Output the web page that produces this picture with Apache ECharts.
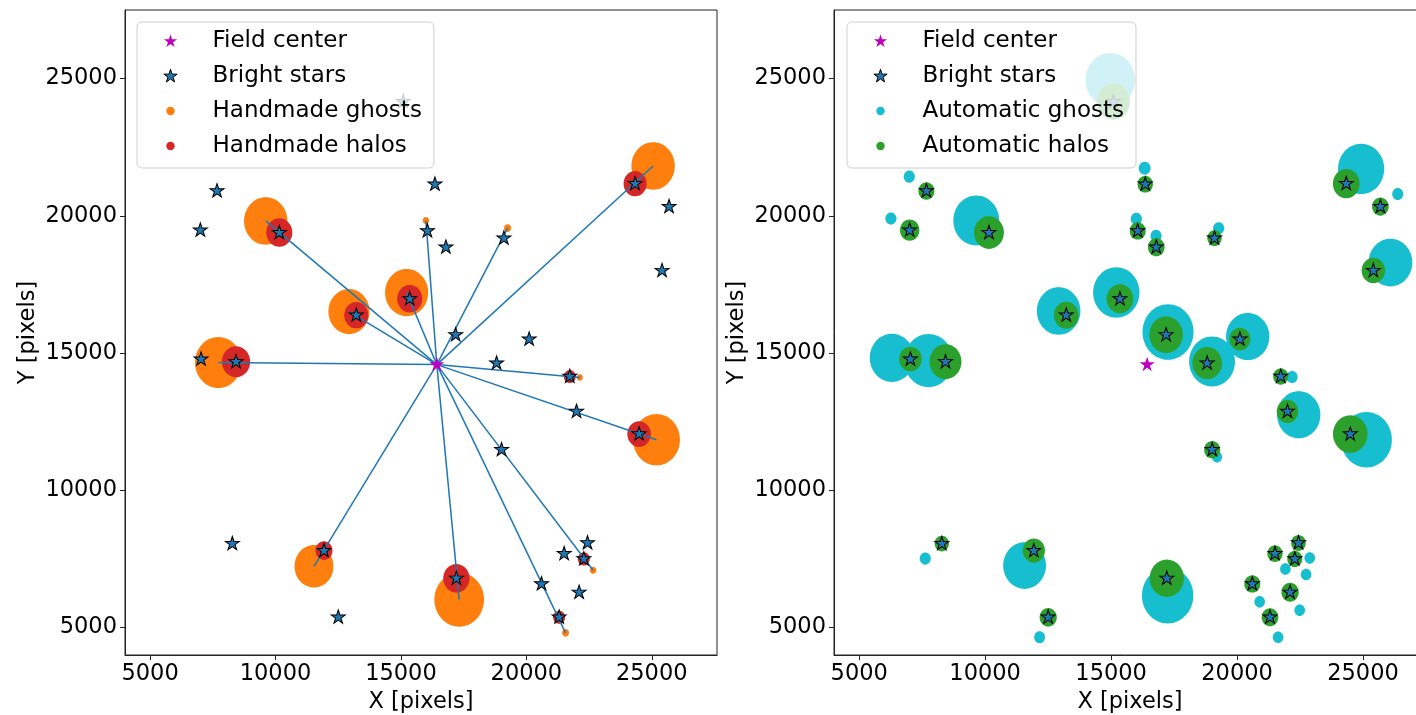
<!DOCTYPE html>
<html><head><meta charset="utf-8">
<script src="https://cdn.jsdelivr.net/npm/echarts@6/dist/echarts.min.js"></script>
<style>html,body{margin:0;padding:0;background:#fff}#c{width:1416px;height:715px}</style>
</head><body><div id="c"></div>
<script>
// ---- data (pixel coordinates of the detector field) ----
const fieldCenter = [16430, 14580];
const starX = [7669, 7004, 10151, 16355, 16056, 16793, 19104, 24335, 25689, 25410, 15351, 13219, 17183, 20112, 18813, 21733, 22000, 24494, 19012, 7032, 8426, 8279, 11932, 12502, 17211, 20605, 21506, 22438, 22291, 22104, 21307, 15092];
const starY = [20908, 19478, 19390, 21152, 19452, 18859, 19186, 21174, 20337, 18007, 16977, 16383, 15666, 15510, 14636, 14148, 12874, 12051, 11480, 14781, 14683, 8058, 7803, 5375, 6795, 6591, 7694, 8083, 7501, 6285, 5375, 24159];

// handmade ghosts (left panel)
const handGhostX = [9610, 12928, 15227, 7721, 25052, 25187, 17323, 11534, 15996, 19251, 22131, 22662, 21562];
const handGhostY = [19816, 16514, 17206, 14658, 21818, 11844, 6019, 7232, 19827, 19550, 14112, 7086, 4807];
const handGhostR = [865, 820, 860, 930, 865, 935, 990, 775, 130, 140, 120, 130, 140];
// handmade halos: index of the bright star they sit on, and radius
const handHaloStar = [2, 11, 10, 20, 7, 17, 24, 22, 15, 28, 30];
const handHaloR = [520, 480, 500, 565, 460, 470, 525, 340, 240, 240, 240];

// automatic ghosts (right panel)
const autoGhostX = [6986, 6259, 9647, 12916, 6299, 7752, 7621, 11565, 12161, 14968, 16331, 16001, 16783, 19269, 24924, 26378, 26088, 15206, 17259, 20422, 19007, 22184, 22447, 25135, 19206, 17244, 22884, 21918, 22740, 20898, 22486, 21628];
const autoGhostY = [21429, 19900, 19827, 16533, 14829, 14727, 7512, 7257, 4647, 24949, 21735, 19889, 19270, 19550, 21709, 20799, 18298, 17206, 15768, 15604, 14694, 14126, 12754, 11844, 11214, 6165, 7537, 7137, 6929, 5936, 5630, 4647];
const autoGhostR = [220, 220, 910, 865, 880, 970, 220, 850, 215, 980, 235, 220, 220, 220, 915, 220, 868, 920, 1013, 860, 910, 220, 860, 1010, 200, 1020, 210, 210, 210, 210, 210, 210];
// automatic halos: one per bright star (same order as starX/starY)
const autoHaloR = [318, 385, 595, 305, 318, 331, 285, 530, 331, 465, 530, 490, 665, 417, 590, 298, 425, 688, 318, 450, 635, 285, 443, 340, 680, 318, 305, 291, 298, 344, 331, 655];

const xTicks = [5000, 10000, 15000, 20000, 25000];
const yTicks = [5000, 10000, 15000, 20000, 25000];

// ---- styling ----
const FONT = 'DejaVu Sans';
const STAR = 'path://M1000,0 L1224.5,691 L1951,691 L1363.3,1118 L1588,1809 L1000,1382 L412,1809 L636.7,1118 L49,691 L775.5,691 Z';
// legend icons: 44x14 box, mark drawn in the left 14 units (gives a wider icon-text gap)
const L_STAR = 'path://M0,0 M440,140 M70,3 L85.72,51.37 L136.57,51.37 L95.43,81.26 L111.16,129.63 L70,99.74 L28.84,129.63 L44.57,81.26 L3.43,51.37 L54.28,51.37 Z';
const L_DOT = 'path://M0,0 M440,140 M70,28 A42,42 0 1 1 70,112 A42,42 0 1 1 70,28 Z';
const C = {star:'#1f77b4', center:'#bf00bf', hg:'#ff7f0e', hh:'#d62728', ag:'#17becf', ah:'#2ca02c'};

function ellipses(name, idx, pts, color, z) {
  return {
    type: 'custom', name: name, xAxisIndex: idx, yAxisIndex: idx, z: z, silent: true,
    itemStyle: {color: color}, clip: true,
    data: pts, encode: {x: 0, y: 1},
    renderItem: function (params, api) {
      const c = api.coord([api.value(0), api.value(1)]);
      const s = api.size([api.value(2), api.value(2)]);
      return {type: 'ellipse', shape: {cx: c[0], cy: c[1], rx: s[0], ry: s[1]}, style: {fill: color}};
    }
  };
}
const starPts = starX.map((x, i) => [x, starY[i]]);
function starSeries(idx) {
  return {type: 'scatter', name: 'Bright stars', xAxisIndex: idx, yAxisIndex: idx, z: 5, silent: true,
    symbol: STAR, symbolSize: [14, 13.3], symbolOffset: [0, -0.6],
    itemStyle: {color: C.star, borderColor: '#000', borderWidth: 1, opacity: 1},
    emphasis: {disabled: true}, data: starPts};
}
function centerSeries(idx) {
  return {type: 'scatter', name: 'Field center', xAxisIndex: idx, yAxisIndex: idx, z: 6, silent: true,
    symbol: STAR, symbolSize: [15, 14.3], symbolOffset: [0, -0.6],
    itemStyle: {color: C.center, opacity: 1}, emphasis: {disabled: true}, data: [fieldCenter]};
}
const plain = v => String(v);
function xAxis(idx, max) {
  return {gridIndex: idx, type: 'value', min: 4000, max: max,
    splitLine: {show: false},
    axisLine: {show: true, onZero: false, lineStyle: {color: '#222', width: 1}},
    axisTick: {show: true, length: 5, customValues: xTicks, lineStyle: {color: '#222'}},
    axisLabel: {customValues: xTicks, formatter: plain, fontSize: 22.5, fontFamily: FONT, color: '#000', margin: 8},
    name: 'X [pixels]', nameLocation: 'middle', nameGap: 34,
    nameTextStyle: {fontSize: 22.5, fontFamily: FONT, color: '#000'}};
}
function yAxis(idx) {
  return {gridIndex: idx, type: 'value', min: 4000, max: 27500,
    splitLine: {show: false},
    axisLine: {show: true, onZero: false, lineStyle: {color: '#222', width: 1}},
    axisTick: {show: true, length: 5, customValues: yTicks, lineStyle: {color: '#222'}},
    axisLabel: {customValues: yTicks, formatter: plain, fontSize: 22.5, fontFamily: FONT, color: '#000', margin: 8},
    name: 'Y [pixels]', nameLocation: 'middle', nameGap: 85,
    nameTextStyle: {fontSize: 22.5, fontFamily: FONT, color: '#000'}};
}
function legend(left, names) {
  return {left: left, top: 22, orient: 'vertical', z: 20, selectedMode: false,
    padding: [7, 12, 10, 26], itemWidth: 44, itemHeight: 14, itemGap: 11,
    backgroundColor: 'rgba(255,255,255,0.8)', borderColor: '#cfcfcf', borderWidth: 1, borderRadius: 5,
    textStyle: {fontSize: 23, fontFamily: FONT, color: '#000', lineHeight: 24},
    data: [
      {name: 'Field center', icon: L_STAR, itemStyle: {color: C.center, borderWidth: 0}},
      {name: 'Bright stars', icon: L_STAR, itemStyle: {color: C.star, borderColor: '#000', borderWidth: 1}},
      {name: names[0], icon: L_DOT, itemStyle: {borderWidth: 0}},
      {name: names[1], icon: L_DOT, itemStyle: {borderWidth: 0}}
    ]};
}

const handGhostPts = handGhostX.map((x, i) => [x, handGhostY[i], handGhostR[i]]);
const handHaloPts = handHaloStar.map((s, i) => [starX[s], starY[s], handHaloR[i]]);
const autoGhostPts = autoGhostX.map((x, i) => [x, autoGhostY[i], autoGhostR[i]]);
const autoHaloPts = starX.map((x, i) => [x, starY[i], autoHaloR[i]]);

const option = {
  animation: false,
  backgroundColor: '#fff',
  textStyle: {fontFamily: FONT},
  grid: [
    {left: 125, top: 10, width: 592, height: 645, outerBoundsMode: 'none', show: true, borderColor: '#222', borderWidth: 1, backgroundColor: 'transparent'},
    {left: 834, top: 10, width: 592, height: 645, outerBoundsMode: 'none', show: true, borderColor: '#222', borderWidth: 1, backgroundColor: 'transparent'}
  ],
  xAxis: [xAxis(0, 27600), xAxis(1, 27500)],
  yAxis: [yAxis(0), yAxis(1)],
  legend: [legend(137, ['Handmade ghosts', 'Handmade halos']), legend(847, ['Automatic ghosts', 'Automatic halos'])],
  series: [
    ellipses('Handmade ghosts', 0, handGhostPts, C.hg, 2),
    ellipses('Handmade halos', 0, handHaloPts, C.hh, 3),
    {type: 'custom', name: 'rays', xAxisIndex: 0, yAxisIndex: 0, z: 4, silent: true,
      data: handGhostPts, encode: {x: 0, y: 1},
      renderItem: function (params, api) {
        const a = api.coord(fieldCenter);
        const b = api.coord([api.value(0), api.value(1)]);
        return {type: 'line', shape: {x1: a[0], y1: a[1], x2: b[0], y2: b[1]}, style: {stroke: C.star, lineWidth: 1.5}};
      }},
    starSeries(0),
    centerSeries(0),
    ellipses('Automatic ghosts', 1, autoGhostPts, C.ag, 2),
    ellipses('Automatic halos', 1, autoHaloPts, C.ah, 3),
    starSeries(1),
    centerSeries(1)
  ]
};
const chart = echarts.init(document.getElementById('c'), null, {renderer: 'canvas'});
chart.setOption(option);
</script>
</body></html>
